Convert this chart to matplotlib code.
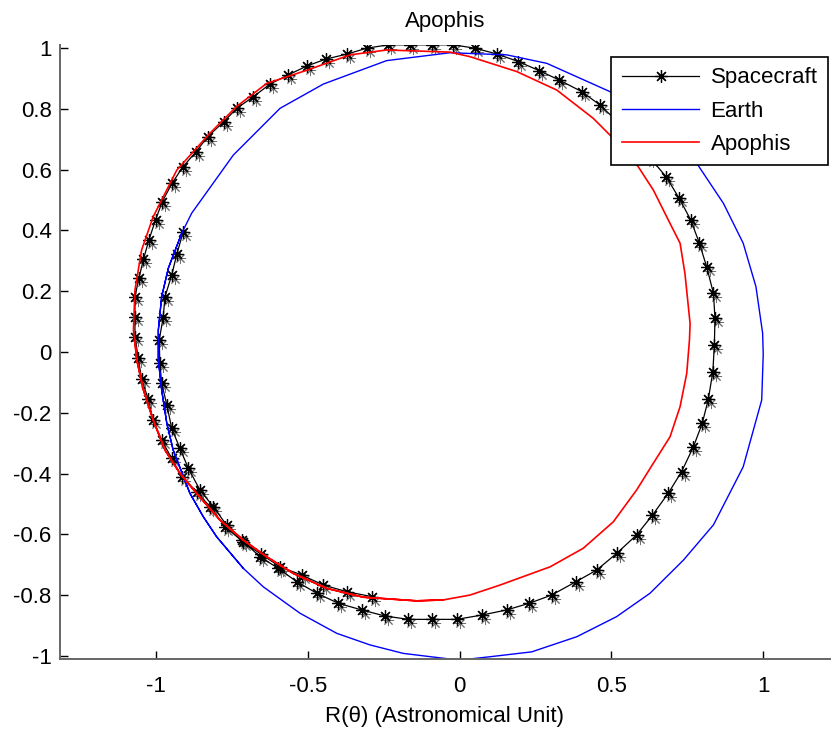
## Spacecraft transfer orbit from Earth to Apophis (re-drawn from a MATLAB figure)
import matplotlib
matplotlib.use("Agg")
import matplotlib.pyplot as plt
from matplotlib.transforms import offset_copy

plt.rcParams['font.family'] = ['Liberation Sans', 'DejaVu Sans']

# Spacecraft trajectory (AU), start -> end
sc_x = [-0.911, -0.932, -0.949, -0.971, -0.977, -0.990, -0.988, -0.982, -0.965, -0.949,
        -0.922, -0.894, -0.856, -0.812, -0.768, -0.718, -0.658, -0.598, -0.537, -0.471,
        -0.400, -0.323, -0.246, -0.169, -0.092, -0.010, 0.072, 0.155, 0.229, 0.303,
        0.383, 0.451, 0.517, 0.583, 0.635, 0.687, 0.731, 0.770, 0.799, 0.819,
        0.834, 0.839, 0.841, 0.836, 0.814, 0.789, 0.761, 0.723, 0.680, 0.627,
        0.574, 0.518, 0.462, 0.402, 0.328, 0.262, 0.193, 0.122, 0.050, -0.021,
        -0.092, -0.164, -0.235, -0.306, -0.370, -0.441, -0.502, -0.565, -0.625, -0.680,
        -0.735, -0.777, -0.830, -0.869, -0.913, -0.948, -0.980, -1.002, -1.024, -1.042,
        -1.057, -1.070, -1.070, -1.070, -1.059, -1.048, -1.026, -1.010, -0.982, -0.949,
        -0.916, -0.867, -0.823, -0.773, -0.714, -0.655, -0.592, -0.521, -0.449, -0.372,
        -0.290]
sc_y = [0.396, 0.322, 0.253, 0.182, 0.114, 0.040, -0.037, -0.103, -0.174, -0.251,
        -0.317, -0.383, -0.454, -0.509, -0.570, -0.619, -0.674, -0.712, -0.756, -0.794,
        -0.827, -0.849, -0.869, -0.880, -0.880, -0.880, -0.866, -0.849, -0.827, -0.800,
        -0.756, -0.718, -0.663, -0.602, -0.537, -0.465, -0.394, -0.312, -0.235, -0.156,
        -0.065, 0.023, 0.111, 0.193, 0.279, 0.360, 0.435, 0.506, 0.577, 0.639,
        0.701, 0.760, 0.813, 0.857, 0.895, 0.926, 0.956, 0.981, 1.000, 1.011,
        1.011, 1.011, 1.011, 1.000, 0.981, 0.964, 0.942, 0.912, 0.882, 0.840,
        0.802, 0.758, 0.709, 0.659, 0.608, 0.555, 0.495, 0.435, 0.369, 0.305,
        0.243, 0.182, 0.114, 0.050, -0.021, -0.090, -0.156, -0.224, -0.290, -0.350,
        -0.410, -0.460, -0.509, -0.575, -0.625, -0.665, -0.707, -0.734, -0.767, -0.789,
        -0.805]

# Earth positions over the transfer (a little more than one revolution)
earth_x = [-0.916, -0.960, -0.982, -0.993, -0.993, -0.982, -0.965, -0.944, -0.889, -0.845,
           -0.801, -0.713, -0.647, -0.526, -0.405, -0.296, -0.186, -0.054, 0.001, 0.100,
           0.237, 0.386, 0.517, 0.627, 0.737, 0.836, 0.934, 0.995, 1.000, 0.998,
           0.976, 0.934, 0.869, 0.781, 0.644, 0.495, 0.287, 0.155, -0.032, -0.241,
           -0.449, -0.592, -0.746, -0.883, -0.916, -0.960, -0.982, -0.993, -0.993, -0.982,
           -0.965, -0.944, -0.889, -0.845, -0.801, -0.713]
earth_y = [0.391, 0.276, 0.182, 0.072, -0.026, -0.125, -0.235, -0.323, -0.465, -0.542,
           -0.608, -0.712, -0.773, -0.860, -0.926, -0.964, -0.992, -1.008, -1.014, -1.003,
           -0.987, -0.937, -0.871, -0.794, -0.685, -0.569, -0.378, -0.158, -0.007, 0.062,
           0.215, 0.358, 0.489, 0.621, 0.757, 0.857, 0.950, 0.978, 0.985, 0.959,
           0.882, 0.802, 0.648, 0.457, 0.391, 0.276, 0.182, 0.072, -0.026, -0.125,
           -0.235, -0.323, -0.465, -0.542, -0.608, -0.712]

# Apophis positions over the transfer
apophis_x = [-1.070, -1.064, -1.042, -1.010, -0.971, -0.922, -0.867, -0.790, -0.713, -0.636,
             -0.548, -0.438, -0.318, -0.142, -0.054, 0.034, 0.133, 0.298, 0.407, 0.506,
             0.583, 0.638, 0.693, 0.726, 0.748, 0.757, 0.759, 0.742, 0.726, 0.687,
             0.638, 0.588, 0.495, 0.440, 0.320, 0.188, 0.034, -0.032, -0.241, -0.361,
             -0.502, -0.636, -0.735, -0.823, -0.932, -1.010, -1.048, -1.070, -1.075, -1.064,
             -1.042, -1.010, -0.971, -0.922, -0.867, -0.790, -0.713, -0.636, -0.548, -0.438,
             -0.318, -0.142, -0.054]
apophis_y = [0.040, -0.026, -0.125, -0.224, -0.323, -0.399, -0.465, -0.553, -0.619, -0.674,
             -0.729, -0.778, -0.807, -0.819, -0.816, -0.800, -0.767, -0.707, -0.646, -0.559,
             -0.454, -0.366, -0.279, -0.180, -0.070, 0.040, 0.094, 0.259, 0.358, 0.435,
             0.533, 0.610, 0.714, 0.769, 0.862, 0.923, 0.972, 0.987, 0.994, 0.978,
             0.928, 0.884, 0.808, 0.720, 0.599, 0.445, 0.336, 0.204, 0.072, -0.026,
             -0.125, -0.224, -0.323, -0.399, -0.465, -0.553, -0.619, -0.674, -0.729, -0.778,
             -0.807, -0.819, -0.816]

x_ticks = [-1, -0.5, 0, 0.5, 1]
x_tick_labels = ['-1', '-0.5', '0', '0.5', '1']
y_ticks = [-1, -0.8, -0.6, -0.4, -0.2, 0, 0.2, 0.4, 0.6, 0.8, 1]
y_tick_labels = ['-1', '-0.8', '-0.6', '-0.4', '-0.2', '0', '0.2', '0.4', '0.6', '0.8', '1']

fig = plt.figure(figsize=(8.32, 7.29), dpi=100)
ax = fig.add_axes([0.0721, 0.0960, 0.9255, 0.8423])

# faint grey "ghost" of each marker, like the export artefacts in the original
ghost = offset_copy(ax.transData, fig=fig, x=3, y=-4, units='dots')
ax.plot(sc_x, sc_y, linestyle='none', marker=(8, 2, 0), markersize=8,
        markeredgewidth=0.7, color='#707070', transform=ghost)

# MATLAB-like asterisk marker (8 arms)
ax.plot(sc_x, sc_y, color='black', linewidth=0.9, marker=(8, 2, 0), markersize=9,
        markeredgewidth=0.9, label='Spacecraft')
ax.plot(earth_x, earth_y, color='blue', linewidth=1.0, label='Earth')
ax.plot(apophis_x, apophis_y, color='red', linewidth=1.2, label='Apophis')

ax.set_xlim(-1.317, 1.220)
ax.set_ylim(-1.0105, 1.0105)
ax.set_xticks(x_ticks)
ax.set_xticklabels(x_tick_labels)
ax.set_yticks(y_ticks)
ax.set_yticklabels(y_tick_labels)

for side in ['top', 'right']:
    ax.spines[side].set_visible(False)
for side in ['left', 'bottom']:
    ax.spines[side].set_color('#666666')
    ax.spines[side].set_linewidth(1.4)

ax.tick_params(axis='both', direction='in', length=5.5, width=1, colors='black', labelsize=16)
ax.tick_params(axis='x', pad=12)
ax.tick_params(axis='y', pad=6)

ax.set_title('Apophis', fontsize=16, pad=13)
ax.set_xlabel('R(\u03b8) (Astronomical Unit)', fontsize=16, labelpad=7)

leg = ax.legend(loc='upper right', bbox_to_anchor=(828 / 832, 1 - 57 / 729),
                bbox_transform=fig.transFigure, fontsize=16, numpoints=1,
                fancybox=False, framealpha=1, edgecolor='black', borderaxespad=0,
                borderpad=0.47, labelspacing=0.55, handlelength=3.5, handletextpad=0.5)
leg.get_frame().set_linewidth(1.2)

plt.savefig('out.png', dpi=100)
